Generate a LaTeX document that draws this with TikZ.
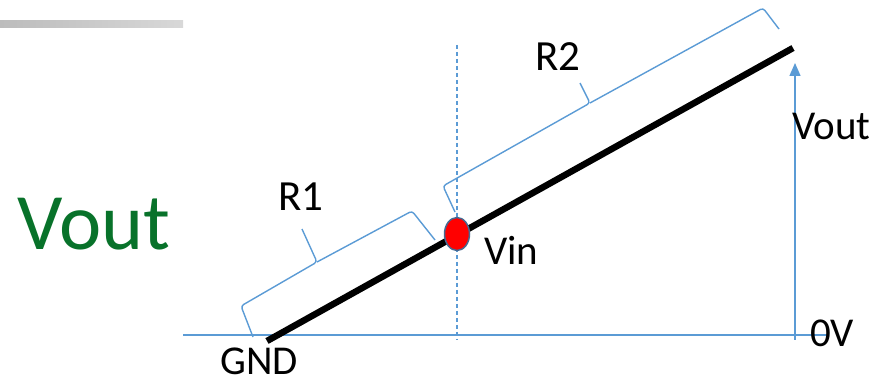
\documentclass[tikz,border=0pt]{standalone}
\usepackage{fontspec}
\setmainfont{Carlito}
\usetikzlibrary{arrows.meta,shapes.geometric}
\definecolor{accent}{RGB}{91,155,213}
\definecolor{dgreen}{RGB}{8,114,42}
\definecolor{dotrim}{RGB}{70,105,145}
\definecolor{barl}{RGB}{188,188,188}
\definecolor{barr}{RGB}{216,216,216}
\def\dblue{\draw[accent,line width=1.4pt]}

\begin{document}
\begin{tikzpicture}[x=1pt,y=-1pt,
    lbl/.style={inner sep=0pt,anchor=base west,font=\fontsize{41}{41}\selectfont},
    rlbl/.style={lbl,font=\fontsize{43}{43}\selectfont},
    wire/.style={line width=6.5pt},
    brk/.style={accent,line width=1.4pt,rounded corners=3pt},
    dot/.style={ellipse,fill=red,draw=dotrim,line width=1.5pt,
        minimum width=25pt,minimum height=33pt,inner sep=0pt}]
    \useasboundingbox (0,0) rectangle (887,382);
    \shade[left color=barl,right color=barr] (0,21) rectangle (183,28);
    % ground level, divider and output arrow
    \coordinate (g0) at (183,335);
    \coordinate (g1) at (827,335);
    \dblue (g0) -- (g1);
    \coordinate (mtop) at (457,45);
    \coordinate (mbot) at (457,340);
    \draw[accent,line width=1.3pt,dash pattern=on 4pt off 3pt] (mtop) -- (mbot);
    \coordinate (vlo) at (795,340);
    \coordinate (vhi) at (795,63);
    \dblue[-{Triangle[length=13pt,width=11pt]}] (vlo) -- (vhi);
    % the track and the wiper
    \coordinate (gnd) at (267,341);
    \coordinate (vcc) at (793,48);
    \draw[wire] (gnd) -- (vcc);
    \node[dot] (vin) at (457,234) {};
    % braces
    \draw[brk] (253,337) -- (241,306) -- (317,262) -- (302,229);
    \draw[brk] (317,262) -- (412,211) -- (435,240);
    \draw[brk] (455,212) -- (443,186) -- (590,103) -- (580,83);
    \draw[brk] (590,103) -- (763,8) -- (779,29);
    % labels
    \node[rlbl] (r1) at (278,211) {R1};
    \node[rlbl] (r2) at (535,71) {R2};
    \node[lbl] (vout) at (792,140) {Vout};
    \node[lbl] (vinl) at (484,265) {Vin};
    \node[lbl] (gndl) at (220,374) {GND};
    \node[lbl] (zero) at (810,347) {0V};
    \node[lbl,text=dgreen,font=\fontsize{80}{80}\selectfont] (title) at (17,250) {Vout};
\end{tikzpicture}
\end{document}
